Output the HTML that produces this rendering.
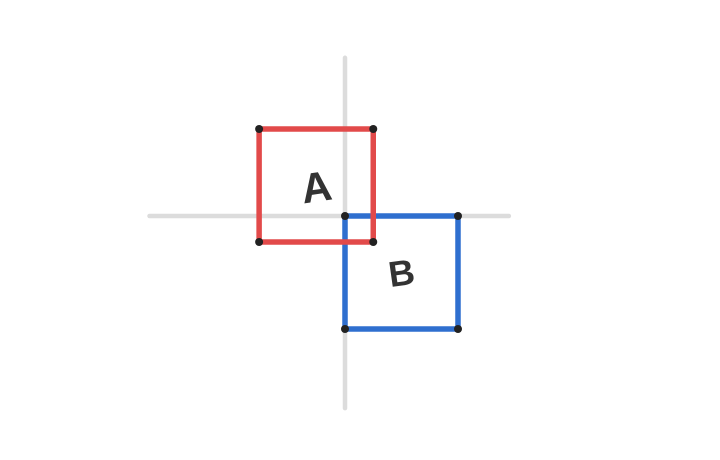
<!DOCTYPE html>
<html><head><meta charset="utf-8"><style>
html,body{margin:0;padding:0;background:#fff;}
svg{display:block;}
</style></head><body>
<svg id="chart" width="720" height="460" viewBox="0 0 720 460" xmlns="http://www.w3.org/2000/svg"></svg>
<script>
// data: squares in axis units (origin at axes crossing, y up)
const squareNames = ["B", "A"];
const squareX0 = [0.0, -0.76];
const squareX1 = [1.0, 0.25];
const squareY0 = [-1.0, -0.23];
const squareY1 = [0.0, 0.77];
const squareColors = ["#2f6fcf", "#e24a4a"];
const axisRangeX = [-1.73, 1.45];
const axisRangeY = [-1.7, 1.4];

const ox = 345, oy = 216, unit = 113;
function sx(v){ return ox + v*unit; }
function sy(v){ return oy - v*unit; }
const svg = document.getElementById('chart');
const NS = "http://www.w3.org/2000/svg";
function mk(tag, attrs){ const e = document.createElementNS(NS, tag); for (const k in attrs) e.setAttribute(k, attrs[k]); svg.appendChild(e); return e; }

let e = mk('line', {x1: sx(axisRangeX[0]), y1: oy, x2: sx(axisRangeX[1]), y2: oy, stroke: '#dcdcdc', 'stroke-width': 4.5, 'stroke-linecap': 'round'});


e = mk('line', {x1: ox, y1: sy(axisRangeY[1]), x2: ox, y2: sy(axisRangeY[0]), stroke: '#dcdcdc', 'stroke-width': 4.5, 'stroke-linecap': 'round'});



for (let i = 0; i < squareNames.length; i++) {
  const x0 = sx(squareX0[i]), x1 = sx(squareX1[i]), y0 = sy(squareY1[i]), y1 = sy(squareY0[i]);
  const r = mk('rect', {x: x0, y: y0, width: x1 - x0, height: y1 - y0, fill: 'none', stroke: squareColors[i], 'stroke-width': 5.5, 'stroke-linejoin': 'round'});
  
  
}
for (let i = 0; i < squareNames.length; i++) {
  const x0 = sx(squareX0[i]), x1 = sx(squareX1[i]), y0 = sy(squareY1[i]), y1 = sy(squareY0[i]);
  [[x0,y0],[x1,y0],[x0,y1],[x1,y1]].forEach(function(p){
    const c = mk('circle', {cx: p[0], cy: p[1], r: 4, fill: '#222'});
    
    
  });
  const isA = squareNames[i] === "A";
  const cx = (x0 + x1)/2, cy = (y0 + y1)/2;
  const t = mk('text', {x: cx, y: cy + (isA ? 16 : 13), 'text-anchor': 'middle', 'font-family': 'Liberation Sans, sans-serif', 'font-weight': 'bold', 'font-size': isA ? 42 : 36, fill: '#333', transform: 'rotate(-8 ' + cx + ' ' + cy + ')'});
  t.textContent = squareNames[i];
  
  
}
</script>
</body></html>
